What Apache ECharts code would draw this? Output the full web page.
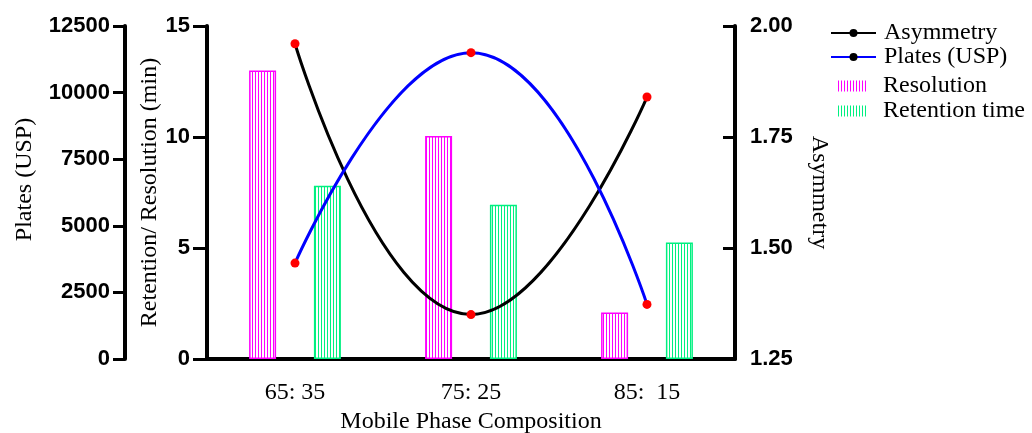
<!DOCTYPE html>
<html>
<head>
<meta charset="utf-8">
<script src="https://cdn.jsdelivr.net/npm/echarts@6/dist/echarts.min.js"></script>
<style>
  html, body { margin: 0; padding: 0; background: #fff; }
  #chart { width: 1032px; height: 433px; }
</style>
</head>
<body>
<div id="chart"></div>
<script>
// Data
const categories = ['65: 35', '75: 25', '85:  15'];
const resolution = [13.0, 10.05, 2.1];
const retentionTime = [7.8, 6.95, 5.25];
const plates = [3600, 11500, 2050];
const asymmetry = [1.96, 1.35, 1.84];

// Axis ranges / ticks
const platesTicks = [0, 2500, 5000, 7500, 10000, 12500];
const retentionTicks = [0, 5, 10, 15];
const asymmetryTicks = [1.25, 1.50, 1.75, 2.00];

// vertical stripe pattern for the bars
function stripes(color) {
    let c = document.createElement('canvas');
    c.width = 3;
    c.height = 4;
    let ctx = c.getContext('2d');
    ctx.fillStyle = '#ffffff';
    ctx.fillRect(0, 0, 3, 4);
    ctx.fillStyle = color;
    ctx.fillRect(0, 0, 1, 4);
    return { image: c, repeat: 'repeat' };
}

const serif = 'Liberation Serif';
const sans = 'Liberation Sans';

let chart = echarts.init(document.getElementById('chart'), null, { renderer: 'canvas' });

let tickLabel = { color: '#000', fontFamily: sans, fontWeight: 'bold', fontSize: 22 };
let axisNameStyle = { color: '#000', fontFamily: serif, fontSize: 24 };

let option = {
    backgroundColor: '#fff',
    animation: false,
    grid: { left: 207, right: 297, top: 26, bottom: 74, containLabel: false, outerBoundsMode: 'none' },
    legend: [
        {
            left: 830, top: 21, orient: 'vertical', padding: 0,
            itemWidth: 45, itemHeight: 10, itemGap: 0,
            textStyle: { color: '#000', fontFamily: serif, fontSize: 24, lineHeight: 24, padding: [0, 0, 0, 3] },
            data: [
                { name: 'Asymmetry', itemStyle: { color: '#000' } },
                { name: 'Plates (USP)', itemStyle: { color: '#000' } }
            ]
        },
        {
            left: 838, top: 74, orient: 'vertical', padding: 0,
            itemWidth: 29, itemHeight: 11, itemGap: 1,
            textStyle: { color: '#000', fontFamily: serif, fontSize: 24, lineHeight: 24, padding: [0, 0, 0, 11] },
            data: [
                { name: 'Resolution', icon: 'rect', itemStyle: { borderWidth: 0 } },
                { name: 'Retention time', icon: 'rect', itemStyle: { borderWidth: 0 } }
            ]
        }
    ],
    xAxis: {
        type: 'category',
        data: categories,
        name: 'Mobile Phase Composition',
        nameLocation: 'middle',
        nameGap: 50,
        nameTextStyle: axisNameStyle,
        axisLine: { lineStyle: { color: '#000', width: 4 } },
        axisTick: { alignWithLabel: true, length: 9, lineStyle: { color: '#000', width: 3 } },
        axisLabel: { color: '#000', fontFamily: serif, fontSize: 24, margin: 22 }
    },
    yAxis: [
        {
            type: 'value',
            name: 'Plates (USP)',
            position: 'left',
            offset: 82,
            min: platesTicks[0],
            max: platesTicks[platesTicks.length - 1],
            interval: 2500,
            nameLocation: 'middle',
            nameGap: 88,
            nameTextStyle: Object.assign({}, axisNameStyle, { padding: [0, 0, 0, 26] }),
            axisLine: { show: true, lineStyle: { color: '#000', width: 4 } },
            axisTick: { show: true, length: 12, lineStyle: { color: '#000', width: 3 } },
            axisLabel: Object.assign({ margin: 15, formatter: v => String(v) }, tickLabel),
            splitLine: { show: false }
        },
        {
            type: 'value',
            name: 'Retention/ Resolution (min)',
            position: 'left',
            offset: 0,
            min: retentionTicks[0],
            max: retentionTicks[retentionTicks.length - 1],
            interval: 5,
            nameLocation: 'middle',
            nameGap: 45,
            nameMoveOverlap: false,
            nameTextStyle: axisNameStyle,
            axisLine: { show: true, lineStyle: { color: '#000', width: 4 } },
            axisTick: { show: true, length: 14, lineStyle: { color: '#000', width: 3 } },
            axisLabel: Object.assign({ margin: 17 }, tickLabel),
            splitLine: { show: false }
        },
        {
            type: 'value',
            name: 'Asymmetry',
            position: 'right',
            min: asymmetryTicks[0],
            max: asymmetryTicks[asymmetryTicks.length - 1],
            interval: 0.25,
            nameLocation: 'middle',
            nameGap: 72,
            nameRotate: -90,
            nameTextStyle: axisNameStyle,
            axisLine: { show: true, lineStyle: { color: '#000', width: 4 } },
            axisTick: { show: true, inside: true, length: 12, lineStyle: { color: '#000', width: 3 } },
            axisLabel: Object.assign({ margin: 15, formatter: v => v.toFixed(2) }, tickLabel),
            splitLine: { show: false }
        }
    ],
    series: [
        {
            name: 'Asymmetry',
            type: 'line',
            yAxisIndex: 2,
            data: asymmetry,
            smooth: 0.5,
            symbol: 'circle',
            symbolSize: 9,
            z: 4,
            lineStyle: { color: '#000', width: 3 },
            itemStyle: { color: '#ff0000' }
        },
        {
            name: 'Plates (USP)',
            type: 'line',
            yAxisIndex: 0,
            data: plates,
            smooth: 0.5,
            symbol: 'circle',
            symbolSize: 9,
            z: 4,
            lineStyle: { color: '#0000ff', width: 3 },
            itemStyle: { color: '#ff0000' }
        },
        {
            name: 'Resolution',
            type: 'bar',
            yAxisIndex: 1,
            data: resolution,
            barWidth: 27,
            barGap: '140%',
            itemStyle: { color: stripes('#ff00ff'), borderColor: '#ff00ff', borderWidth: 1.5 }
        },
        {
            name: 'Retention time',
            type: 'bar',
            yAxisIndex: 1,
            data: retentionTime,
            barWidth: 27,
            barGap: '140%',
            itemStyle: { color: stripes('#00f080'), borderColor: '#00f080', borderWidth: 1.5 }
        }
    ]
};

chart.setOption(option);
</script>
</body>
</html>
